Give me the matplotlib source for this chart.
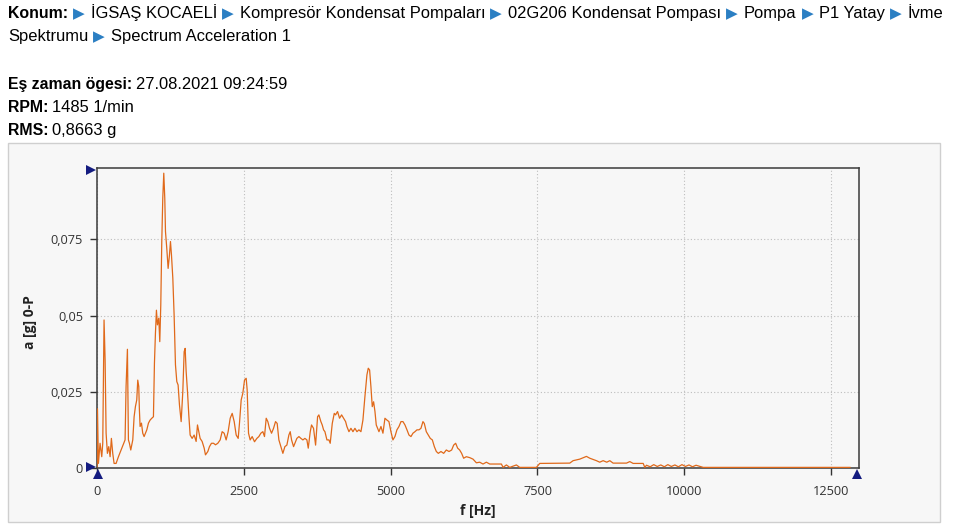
import matplotlib
matplotlib.use("Agg")
import matplotlib.pyplot as plt
from matplotlib.patches import Rectangle
from matplotlib.transforms import ScaledTranslation

# ---------------- data ----------------
freq_hz = [0, 8, 24, 52, 81, 98, 120, 138, 155, 177, 200, 223, 245, 268, 291, 325, 365, 422, 478,
           495, 518, 535, 552, 575, 609, 632, 654, 677, 694, 711, 722, 734, 757, 779, 802, 825, 848,
           876, 904, 933, 961, 978, 995, 1012, 1029, 1052, 1069, 1086, 1103, 1120, 1137, 1154, 1166,
           1188, 1211, 1234, 1251, 1268, 1291, 1313, 1336, 1359, 1381, 1404, 1433, 1461, 1484, 1501,
           1518, 1541, 1563, 1586, 1620, 1654, 1688, 1711, 1734, 1756, 1790, 1825, 1847, 1887, 1915,
           1949, 1984, 2018, 2057, 2097, 2131, 2165, 2199, 2233, 2268, 2302, 2336, 2370, 2404, 2427,
           2455, 2483, 2512, 2540, 2557, 2580, 2608, 2642, 2682, 2722, 2756, 2790, 2824, 2852, 2881,
           2909, 2938, 2972, 3006, 3040, 3068, 3097, 3131, 3165, 3199, 3233, 3267, 3290, 3313, 3347,
           3369, 3403, 3438, 3472, 3506, 3540, 3574, 3597, 3631, 3653, 3687, 3722, 3756, 3778, 3812,
           3835, 3858, 3881, 3915, 3949, 3971, 4006, 4040, 4062, 4096, 4130, 4165, 4199, 4233, 4255,
           4290, 4324, 4358, 4392, 4426, 4460, 4494, 4528, 4562, 4596, 4619, 4642, 4664, 4687, 4710,
           4733, 4755, 4778, 4801, 4835, 4869, 4903, 4937, 4971, 5005, 5039, 5073, 5107, 5142, 5176,
           5210, 5244, 5278, 5312, 5346, 5380, 5414, 5448, 5482, 5516, 5550, 5573, 5607, 5641, 5675,
           5710, 5744, 5778, 5812, 5857, 5903, 5948, 5994, 6039, 6073, 6107, 6141, 6175, 6209, 6243,
           6289, 6346, 6403, 6460, 6516, 6573, 6630, 6687, 6800, 6886, 6914, 6971, 7028, 7141, 7198,
           7482, 7539, 8050, 8107, 8220, 8334, 8391, 8504, 8560, 8618, 8680, 8732, 8788, 9016, 9072,
           9129, 9300, 9328, 9356, 9420, 9480, 9540, 9600, 9660, 9720, 9780, 9840, 9900, 9960, 10020,
           10080, 10140, 10200, 10322, 12821]

accel_g = [0.0005, 0.0195, 0.0016, 0.0082, 0.0038, 0.0082, 0.0486, 0.0355, 0.0115, 0.0049, 0.0071,
           0.0038, 0.0098, 0.0049, 0.0016, 0.0016, 0.0038, 0.0066, 0.0093, 0.0268, 0.0390, 0.0093,
           0.0082, 0.0060, 0.0093, 0.0169, 0.0202, 0.0224, 0.0289, 0.0268, 0.0191, 0.0137, 0.0148,
           0.0115, 0.0104, 0.0115, 0.0126, 0.0148, 0.0158, 0.0164, 0.0169, 0.0344, 0.0442, 0.0518,
           0.0470, 0.0492, 0.0415, 0.0535, 0.0743, 0.0885, 0.0967, 0.0885, 0.0776, 0.0721, 0.0655,
           0.0699, 0.0743, 0.0699, 0.0623, 0.0503, 0.0339, 0.0284, 0.0273, 0.0208, 0.0153, 0.0251,
           0.0382, 0.0393, 0.0317, 0.0251, 0.0175, 0.0109, 0.0098, 0.0109, 0.0088, 0.0142, 0.0120,
           0.0098, 0.0088, 0.0066, 0.0044, 0.0055, 0.0071, 0.0082, 0.0082, 0.0077, 0.0082, 0.0093,
           0.0120, 0.0115, 0.0093, 0.0120, 0.0164, 0.0180, 0.0153, 0.0109, 0.0098, 0.0150, 0.0224,
           0.0246, 0.0289, 0.0295, 0.0257, 0.0115, 0.0093, 0.0104, 0.0087, 0.0098, 0.0104, 0.0115,
           0.0120, 0.0104, 0.0164, 0.0153, 0.0131, 0.0115, 0.0131, 0.0153, 0.0147, 0.0093, 0.0071,
           0.0049, 0.0071, 0.0076, 0.0109, 0.0120, 0.0093, 0.0071, 0.0082, 0.0098, 0.0104, 0.0098,
           0.0093, 0.0098, 0.0093, 0.0066, 0.0120, 0.0142, 0.0131, 0.0076, 0.0169, 0.0175, 0.0153,
           0.0142, 0.0126, 0.0120, 0.0093, 0.0093, 0.0082, 0.0147, 0.0180, 0.0175, 0.0186, 0.0164,
           0.0175, 0.0164, 0.0153, 0.0137, 0.0120, 0.0131, 0.0120, 0.0131, 0.0120, 0.0126, 0.0120,
           0.0158, 0.0235, 0.0306, 0.0328, 0.0322, 0.0268, 0.0202, 0.0218, 0.0186, 0.0142, 0.0131,
           0.0120, 0.0137, 0.0115, 0.0164, 0.0158, 0.0153, 0.0120, 0.0093, 0.0104, 0.0126, 0.0137,
           0.0153, 0.0153, 0.0142, 0.0126, 0.0109, 0.0104, 0.0115, 0.0120, 0.0126, 0.0126, 0.0131,
           0.0153, 0.0147, 0.0120, 0.0109, 0.0098, 0.0093, 0.0071, 0.0055, 0.0049, 0.0055, 0.0049,
           0.0060, 0.0055, 0.0060, 0.0076, 0.0082, 0.0066, 0.0060, 0.0049, 0.0033, 0.0038, 0.0035,
           0.0030, 0.0018, 0.0020, 0.0014, 0.0020, 0.0014, 0.0014, 0.0014, 0.0003, 0.0011, 0.0003,
           0.0011, 0.0003, 0.0003, 0.0016, 0.0017, 0.0025, 0.0030, 0.0039, 0.0033, 0.0025, 0.0020,
           0.0025, 0.0020, 0.0025, 0.0017, 0.0017, 0.0022, 0.0016, 0.0016, 0.0003, 0.0010, 0.0005,
           0.0012, 0.0006, 0.0011, 0.0005, 0.0012, 0.0006, 0.0011, 0.0005, 0.0012, 0.0006, 0.0011,
           0.0005, 0.0010, 0.0003, 0.0003]

x_ticks = [0, 2500, 5000, 7500, 10000, 12500]
x_tick_labels = ["0", "2500", "5000", "7500", "10000", "12500"]
y_ticks = [0, 0.025, 0.05, 0.075]
y_tick_labels = ["0", "0,025", "0,05", "0,075"]

header_path = [("Konum:", True), ("İGSAŞ KOCAELİ", False), ("Kompresör Kondensat Pompaları", False),
               ("02G206 Kondensat Pompası", False), ("Pompa", False), ("P1 Yatay", False), ("İvme", False)]
header_path2 = ["Spektrumu", "Spectrum Acceleration 1"]
info_lines = [("Eş zaman ögesi:", "27.08.2021 09:24:59"),
              ("RPM:", "1485 1/min"),
              ("RMS:", "0,8663 g")]

# ---------------- figure ----------------
W, H = 954, 530
fig = plt.figure(figsize=(W / 100, H / 100), dpi=100)
fig.patch.set_facecolor("white")
renderer = fig.canvas.get_renderer()

HFONT = ["Liberation Sans", "DejaVu Sans"]
NSIZE = 11.9
BSIZE = 11.4
ARROW_C = "#2b7fc3"


def put(x, ybase, s, bold=False, color="black", family=None, size=None):
    if size is None:
        size = BSIZE if bold else NSIZE
    t = fig.text(x / W, 1 - ybase / H, s, ha="left", va="baseline", fontsize=size,
                 fontweight="bold" if bold else "normal", color=color,
                 family=family or HFONT)
    bb = t.get_window_extent(renderer)
    return x + bb.width


def arrow(x, ybase):
    x += 5
    x = put(x, ybase, "▶", color=ARROW_C, family=["DejaVu Sans"], size=11)
    return x + 6


# header line 1
x = 8
y1 = 18
for i, (s, b) in enumerate(header_path):
    if i > 0:
        x = arrow(x, y1)
    x = put(x, y1, s, bold=b)
# header line 2
x = 8
y2 = 41.5
x = put(x, y2, header_path2[0])
x = arrow(x, y2)
put(x, y2, header_path2[1])

for (lab, val), yb in zip(info_lines, [89, 112, 135]):
    x = put(8, yb, lab, bold=True)
    put(x + 4, yb, val)

# panel
fig.patches.append(Rectangle((8 / W, 1 - 522 / H), 932 / W, 379 / H, transform=fig.transFigure,
                             facecolor="#f7f7f7", edgecolor="#cfcfcf", lw=1.0, zorder=-5))

# axes
L, R, T, B = 97, 859, 168.3, 468.3
ax = fig.add_axes([L / W, 1 - B / H, (R - L) / W, (B - T) / H])
ax.set_zorder(2)
ax.set_facecolor("#f7f7f7")
ax.plot(freq_hz, accel_g, color="#e0691a", lw=0.9, zorder=3)
ax.set_xlim(0, 12975)
ax.set_ylim(0, 0.0983)

TFONT = ["Open Sans", "DejaVu Sans"]
ax.set_xticks(x_ticks)
ax.set_xticklabels(x_tick_labels, fontsize=9.2, family=TFONT, color="#333333")
ax.set_yticks(y_ticks)
ax.set_yticklabels(y_tick_labels, fontsize=9.2, family=TFONT, color="#333333")
ax.tick_params(axis="x", length=5, width=1, color="#333333", pad=7)
ax.tick_params(axis="y", length=5, width=1, color="#333333", pad=5)
ax.grid(True, linestyle=(0, (1, 2)), color="#bdbdbd", lw=0.8)
ax.set_axisbelow(True)
for sp in ax.spines.values():
    sp.set_color("#3a3a3a")
    sp.set_linewidth(1.1)

ax.set_xlabel("f [Hz]", fontsize=10, family=TFONT, fontweight="bold", color="#222222")
ax.set_ylabel("a [g] 0-P", fontsize=10, family=TFONT, fontweight="bold", color="#222222")
ax.xaxis.set_label_coords((478 - L) / (R - L), -(511 - B) / (B - T))
ax.yaxis.set_label_coords(-(97 - 30) / (R - L), (B - 322) / (B - T))
ax.xaxis.label.set_va("center")
ax.yaxis.label.set_va("center")


def axmark(xa, ya, dx, dy, m):
    tr = ax.transAxes + ScaledTranslation(dx / 100, dy / 100, fig.dpi_scale_trans)
    ax.plot([xa], [ya], marker=m, color="#141c80", ms=6.5, mew=0, transform=tr,
            clip_on=False, zorder=6)


axmark(0, 1, -6, -2, ">")
axmark(0, 0, -6, 1, ">")
axmark(0, 0, 1, -6, "^")
axmark(1, 0, -2, -6, "^")

fig.savefig("out.png", dpi=100, facecolor="white")
